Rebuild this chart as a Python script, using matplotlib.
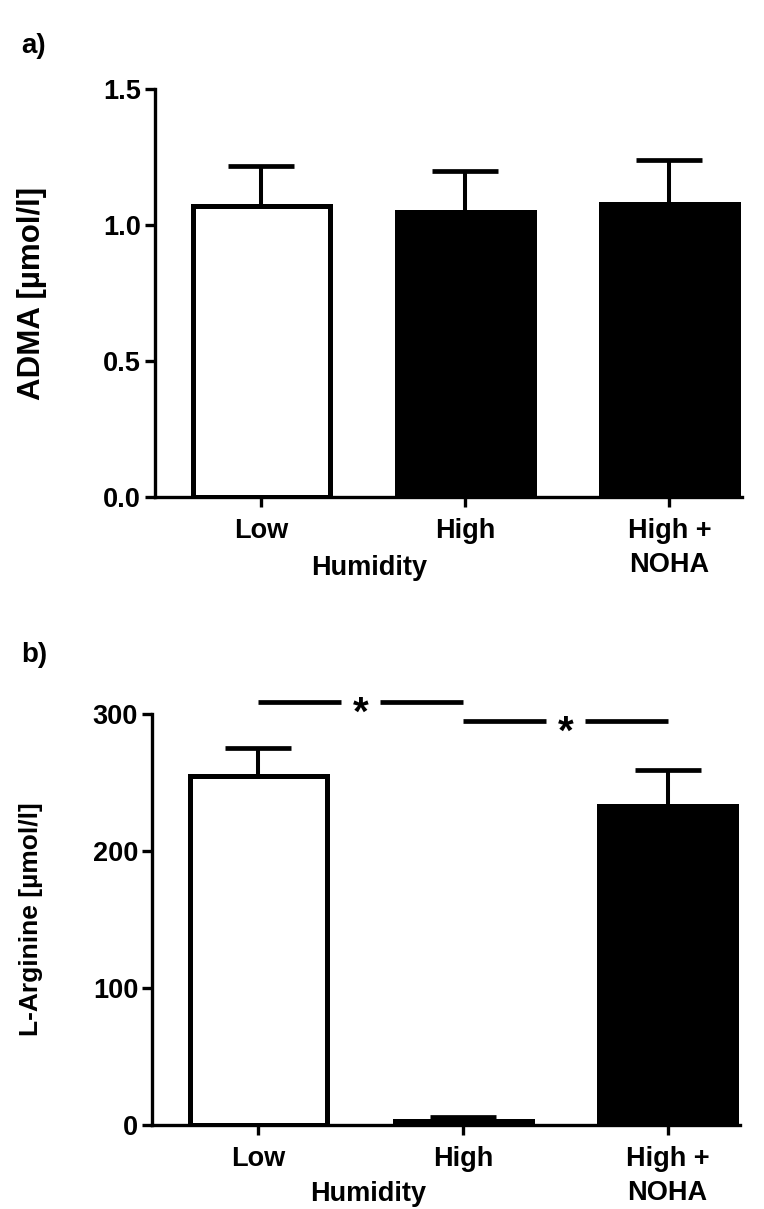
import matplotlib
matplotlib.use('Agg')
import matplotlib.pyplot as plt
import numpy as np

plt.rcParams['font.family'] = ['Liberation Sans', 'DejaVu Sans']
plt.rcParams['font.weight'] = 'bold'

# datos
grupos = ['Low', 'High', 'High +\nNOHA']
colores = ['white', 'black', 'black']

adma = [1.07, 1.05, 1.08]
adma_sem = [0.15, 0.15, 0.16]

arginina = [255, 3, 233]
arginina_sem = [20, 3, 26]

# comparaciones significativas (grupo a, grupo b, altura)
signif = [(0, 1, 309), (1, 2, 295)]

tam = 19.5


def panel(ax, valores, sem, ylim, yticks, ylabel, fmt, tam_y):
    x = np.arange(len(grupos))
    ax.bar(x, valores, width=0.67, color=colores, edgecolor='black',
           linewidth=3.6, zorder=2)
    ax.errorbar(x, valores, yerr=[np.zeros(len(sem)), sem], fmt='none',
                ecolor='black', elinewidth=2.9, capsize=24, capthick=3.4,
                zorder=1)
    ax.set_xlim(-0.52, 2.355)
    ax.set_ylim(*ylim)
    ax.set_yticks(yticks)
    ax.set_yticklabels([fmt.format(v) for v in yticks])
    ax.set_xticks(x)
    ax.set_xticklabels(grupos, linespacing=1.42, va='top')
    for s in ['top', 'right']:
        ax.spines[s].set_visible(False)
    for s in ['left', 'bottom']:
        ax.spines[s].set_linewidth(2.4)
    ax.tick_params(direction='out', length=7, width=2.4, labelsize=tam,
                   pad=3)
    ax.tick_params(axis='x', pad=8)
    ax.set_ylabel(ylabel, fontsize=tam_y, fontweight='bold')
    ax.yaxis.set_label_coords(-0.185, 0.5)
    ax.set_xlabel('Humidity', fontsize=tam, fontweight='bold')
    ax.xaxis.set_label_coords(0.365, -0.142)
    for lbl in ax.get_xticklabels() + ax.get_yticklabels():
        lbl.set_fontweight('bold')


fig = plt.figure(figsize=(7.64, 12.09), dpi=100)
ax1 = fig.add_axes([0.203, 0.589, 0.768, 0.337])
ax2 = fig.add_axes([0.199, 0.0695, 0.770, 0.340])

panel(ax1, adma, adma_sem, (0, 1.5), [0.0, 0.5, 1.0, 1.5],
      'ADMA [µmol/l]', '{:.1f}', 22.5)
panel(ax2, arginina, arginina_sem, (0, 300), [0, 100, 200, 300],
      'L-Arginine [µmol/l]', '{:.0f}', 19)
ax2.xaxis.set_label_coords(0.367, -0.136)

# lineas de significancia con hueco para el asterisco
hueco = 0.095
for a, b, h in signif:
    m = (a + b) / 2
    ax2.plot([a, m - hueco], [h, h], color='black', lw=3.4,
             solid_capstyle='butt', clip_on=False)
    ax2.plot([m + hueco, b], [h, h], color='black', lw=3.4,
             solid_capstyle='butt', clip_on=False)
    ax2.annotate('*', xy=(m, h), xytext=(0, -9), textcoords='offset points',
                 ha='center', va='center', fontsize=29, fontweight='bold',
                 annotation_clip=False)

fig.text(0.028, 0.962, 'a)', fontsize=20, fontweight='bold', va='center')
fig.text(0.028, 0.458, 'b)', fontsize=20, fontweight='bold', va='center')

fig.savefig('out.png', dpi=100, facecolor='white')
